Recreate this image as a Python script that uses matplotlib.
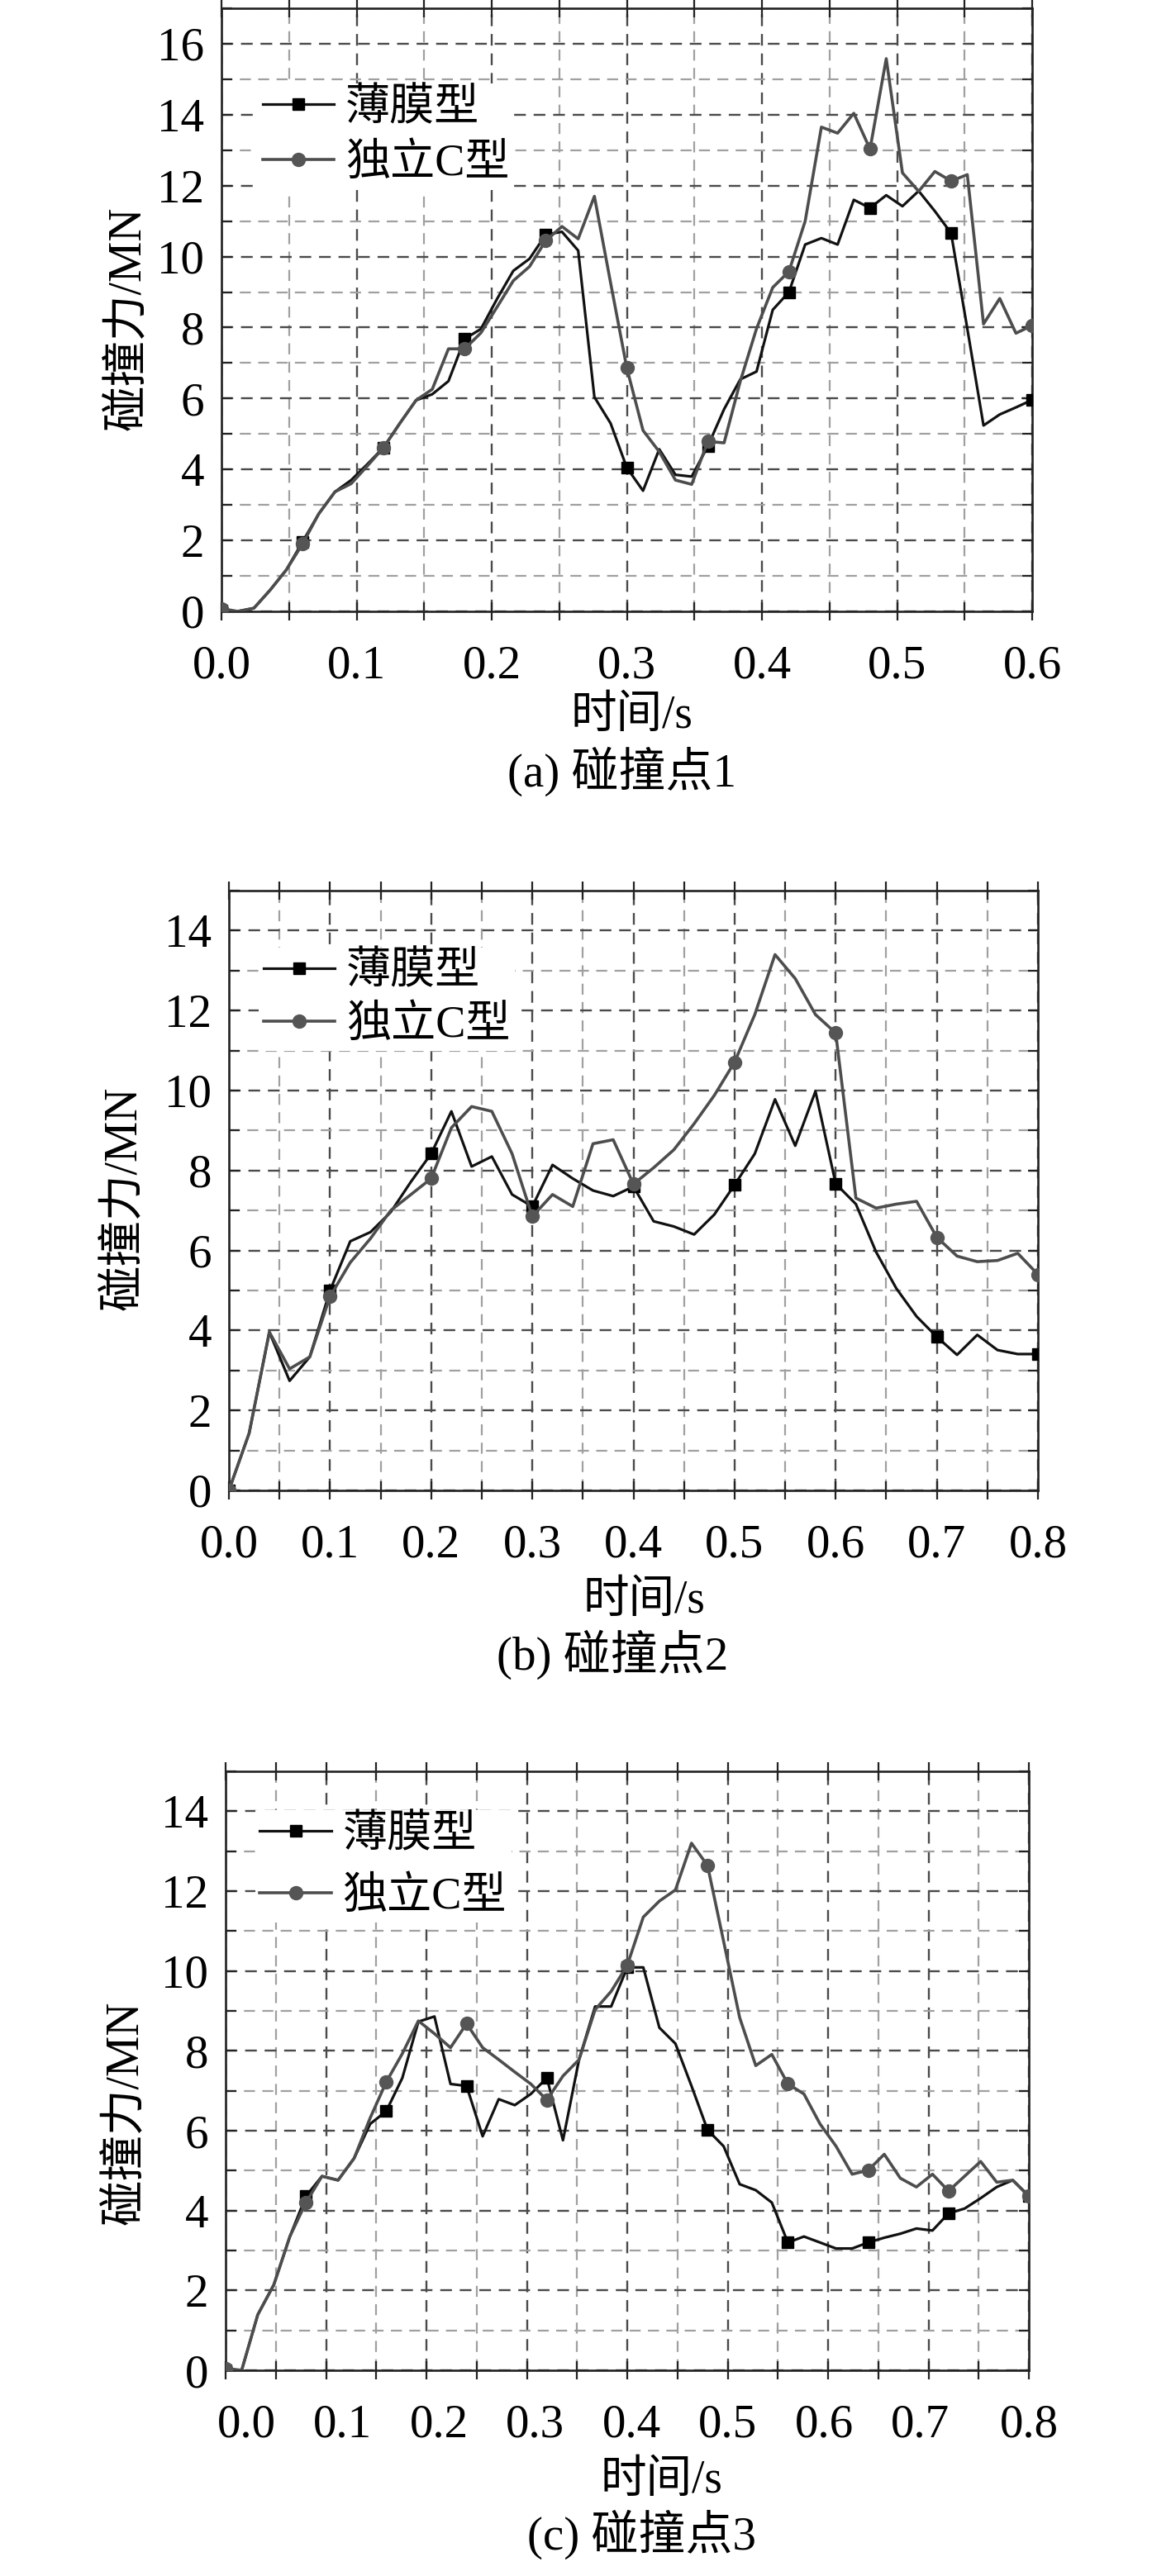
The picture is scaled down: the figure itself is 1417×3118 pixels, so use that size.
import matplotlib
matplotlib.use('Agg')
import matplotlib.pyplot as plt
from matplotlib.ticker import MultipleLocator, FormatStrFormatter
from matplotlib.transforms import ScaledTranslation

W, H, DPI = 1417, 3118, 100

# ---------------- data ----------------
time_a = [0.000, 0.012, 0.024, 0.036, 0.048, 0.060, 0.072, 0.084, 0.096, 0.108,
          0.120, 0.132, 0.144, 0.156, 0.168, 0.180, 0.192, 0.204, 0.216, 0.228,
          0.240, 0.252, 0.264, 0.276, 0.288, 0.300, 0.312, 0.324, 0.336, 0.348,
          0.360, 0.372, 0.384, 0.396, 0.408, 0.420, 0.432, 0.444, 0.456, 0.468,
          0.480, 0.492, 0.504, 0.516, 0.528, 0.540, 0.552, 0.564, 0.576, 0.588, 0.600]
film_a = [0.03, 0.0, 0.09, 0.6, 1.17, 1.96, 2.75, 3.37, 3.7, 4.15,
          4.62, 5.3, 5.95, 6.12, 6.49, 7.68, 7.96, 8.81, 9.6, 9.94,
          10.62, 10.7, 10.17, 6.04, 5.3, 4.05, 3.4, 4.57, 3.85, 3.8,
          4.66, 5.7, 6.54, 6.76, 8.5, 9.0, 10.34, 10.52, 10.34, 11.6,
          11.37, 11.73, 11.42, 11.85, 11.28, 10.66, 7.97, 5.24, 5.55, 5.75, 5.96]
indep_a = [0.08, 0.0, 0.09, 0.6, 1.17, 1.9, 2.75, 3.37, 3.6, 4.1,
           4.62, 5.3, 5.95, 6.26, 7.4, 7.4, 7.85, 8.58, 9.32, 9.72,
           10.45, 10.85, 10.5, 11.7, 9.26, 6.86, 5.1, 4.5, 3.7, 3.58,
           4.79, 4.75, 6.49, 7.97, 9.13, 9.58, 11.0, 13.65, 13.48, 14.04,
           13.03, 15.58, 12.36, 11.84, 12.4, 12.13, 12.31, 8.1, 8.82, 7.84, 8.06]

time_b = [0.00, 0.02, 0.04, 0.06, 0.08, 0.10, 0.12, 0.14, 0.16, 0.18,
          0.20, 0.22, 0.24, 0.26, 0.28, 0.30, 0.32, 0.34, 0.36, 0.38,
          0.40, 0.42, 0.44, 0.46, 0.48, 0.50, 0.52, 0.54, 0.56, 0.58,
          0.60, 0.62, 0.64, 0.66, 0.68, 0.70, 0.72, 0.74, 0.76, 0.78, 0.80]
film_b = [0.0, 1.43, 3.96, 2.74, 3.34, 5.0, 6.23, 6.46, 6.96, 7.72,
          8.42, 9.48, 8.1, 8.35, 7.4, 7.1, 8.14, 7.8, 7.5, 7.36,
          7.6, 6.73, 6.6, 6.4, 6.9, 7.64, 8.42, 9.78, 8.62, 9.98,
          7.67, 7.16, 5.96, 5.05, 4.35, 3.84, 3.39, 3.89, 3.51, 3.41, 3.41]
indep_b = [0.0, 1.43, 3.96, 3.04, 3.34, 4.85, 5.7, 6.3, 7.0, 7.4,
           7.8, 9.07, 9.6, 9.48, 8.42, 6.85, 7.4, 7.1, 8.67, 8.77,
           7.66, 8.07, 8.52, 9.17, 9.88, 10.71, 11.9, 13.4, 12.8, 11.9,
           11.44, 7.31, 7.06, 7.16, 7.23, 6.33, 5.86, 5.72, 5.75, 5.93, 5.4]

time_c = [0.000, 0.016, 0.032, 0.048, 0.064, 0.080, 0.096, 0.112, 0.128, 0.144,
          0.160, 0.176, 0.192, 0.208, 0.224, 0.240, 0.256, 0.272, 0.288, 0.304,
          0.320, 0.336, 0.352, 0.368, 0.384, 0.400, 0.416, 0.432, 0.448, 0.464,
          0.480, 0.496, 0.512, 0.528, 0.544, 0.560, 0.576, 0.592, 0.608, 0.624,
          0.640, 0.656, 0.672, 0.688, 0.704, 0.720, 0.736, 0.752, 0.768, 0.784, 0.800]
film_c = [0.0, 0.0, 1.39, 2.14, 3.35, 4.36, 4.86, 4.76, 5.31, 6.17,
          6.49, 7.32, 8.73, 8.86, 7.17, 7.12, 5.86, 6.79, 6.64, 6.92,
          7.32, 5.76, 7.78, 9.11, 9.11, 10.09, 10.09, 8.58, 8.18, 7.12,
          6.02, 5.61, 4.66, 4.51, 4.2, 3.2, 3.35, 3.2, 3.05, 3.05,
          3.2, 3.32, 3.42, 3.55, 3.5, 3.93, 4.05, 4.31, 4.59, 4.76, 4.36]
indep_c = [0.05, 0.0, 1.39, 2.14, 3.35, 4.2, 4.86, 4.76, 5.31, 6.32,
           7.22, 7.93, 8.75, 8.43, 8.08, 8.68, 8.08, 7.78, 7.47, 7.17,
           6.77, 7.37, 7.78, 9.03, 9.49, 10.14, 11.35, 11.75, 12.03, 13.2,
           12.64, 10.74, 8.83, 7.63, 7.91, 7.17, 6.92, 6.17, 5.61, 4.91,
           5.01, 5.41, 4.81, 4.59, 4.91, 4.49, 4.86, 5.23, 4.71, 4.76, 4.36]

series_names = ['薄膜型', '独立C型']
captions = ['(a) 碰撞点1', '(b) 碰撞点2', '(c) 碰撞点3']
x_label = '时间/s'
y_label = '碰撞力/MN'

# ---------------- style ----------------
plt.rcParams['font.family'] = ['Liberation Serif', 'Noto Sans CJK SC']
plt.rcParams['axes.unicode_minus'] = False

fig = plt.figure(figsize=(W / DPI, H / DPI), dpi=DPI)

# axes boxes in pixels: left, top, right, bottom
layout = [
    dict(box=(268, 10, 1249, 740), xmax=0.6, ymax=17, ylab=(155, 385),
         xl=(764, 867), cap=(752, 934), leg=(0.045, 0.875), lsp=0.30, shift=None),
    dict(box=(277, 1078, 1256, 1804), xmax=0.8, ymax=15, ylab=(150, 1450),
         xl=(779, 1938), cap=(741, 2003), leg=(0.037, 0.905), lsp=0.25, shift=None),
    dict(box=(273, 2144, 1245, 2869), xmax=0.8, ymax=15, ylab=(152, 2557),
         xl=(800, 3003), cap=(777, 3068), leg=(0.037, 0.935), lsp=0.45,
         shift=[30, 25, 20, 15, 10, 5, 0, -5, -10]),
]
data = [(time_a, film_a, indep_a), (time_b, film_b, indep_b), (time_c, film_c, indep_c)]

dash = (0, (6, 4))
for lay, (tt, f, c), cap in zip(layout, data, captions):
    l, t, r, b = lay['box']
    ax = fig.add_axes([l / W, 1 - b / H, (r - l) / W, (b - t) / H])
    ax.plot(tt, f, color='#111111', lw=2.3, marker='s', ms=10, markevery=5,
            mfc='#000000', mec='#000000', label=series_names[0], zorder=3)
    ax.plot(tt, c, color='#4d4d4d', lw=2.6, marker='o', ms=11.5, markevery=5,
            mfc='#555555', mec='#555555', label=series_names[1], zorder=4)
    ax.set_xlim(0, lay['xmax'])
    ax.set_ylim(0, lay['ymax'])
    ax.xaxis.set_major_locator(MultipleLocator(0.1))
    ax.xaxis.set_minor_locator(MultipleLocator(0.05))
    ax.yaxis.set_major_locator(MultipleLocator(2))
    ax.yaxis.set_minor_locator(MultipleLocator(1))
    ax.xaxis.set_major_formatter(FormatStrFormatter('%.1f'))
    ax.set_axisbelow(True)
    ax.grid(which='major', color='#4a4a4a', linestyle=dash, linewidth=1.7)
    ax.grid(which='minor', color='#a0a0a0', linestyle=dash, linewidth=1.6)
    ax.tick_params(which='both', direction='in', top=True, right=True,
                   length=9, width=1.6, color='#222222')
    ax.tick_params(axis='x', which='both', direction='inout', length=16,
                   labelsize=41, pad=21)
    ax.tick_params(axis='y', labelsize=41, pad=15)
    for s in ax.spines.values():
        s.set_linewidth(1.9)
        s.set_color('#222222')
    if lay['shift'] is not None:
        fig.canvas.draw()
        for lbl, dx in zip(ax.get_xticklabels(), lay['shift']):
            lbl.set_transform(lbl.get_transform() +
                              ScaledTranslation(dx / DPI, 0, fig.dpi_scale_trans))
    ax.legend(loc='upper left', bbox_to_anchor=lay['leg'], fontsize=39,
              frameon=True, fancybox=False, edgecolor='none', facecolor='white',
              framealpha=1.0, borderaxespad=0, borderpad=0.1,
              handlelength=1.6, handletextpad=0.25, labelspacing=lay['lsp'],
              numpoints=1)
    fig.text(lay['ylab'][0] / W, 1 - lay['ylab'][1] / H, y_label, rotation=90,
             fontsize=40, ha='center', va='center')
    fig.text(lay['xl'][0] / W, 1 - lay['xl'][1] / H, x_label,
             fontsize=40, ha='center', va='center')
    fig.text(lay['cap'][0] / W, 1 - lay['cap'][1] / H, cap,
             fontsize=41, ha='center', va='center')

fig.savefig('out.png', dpi=DPI, facecolor='white')
